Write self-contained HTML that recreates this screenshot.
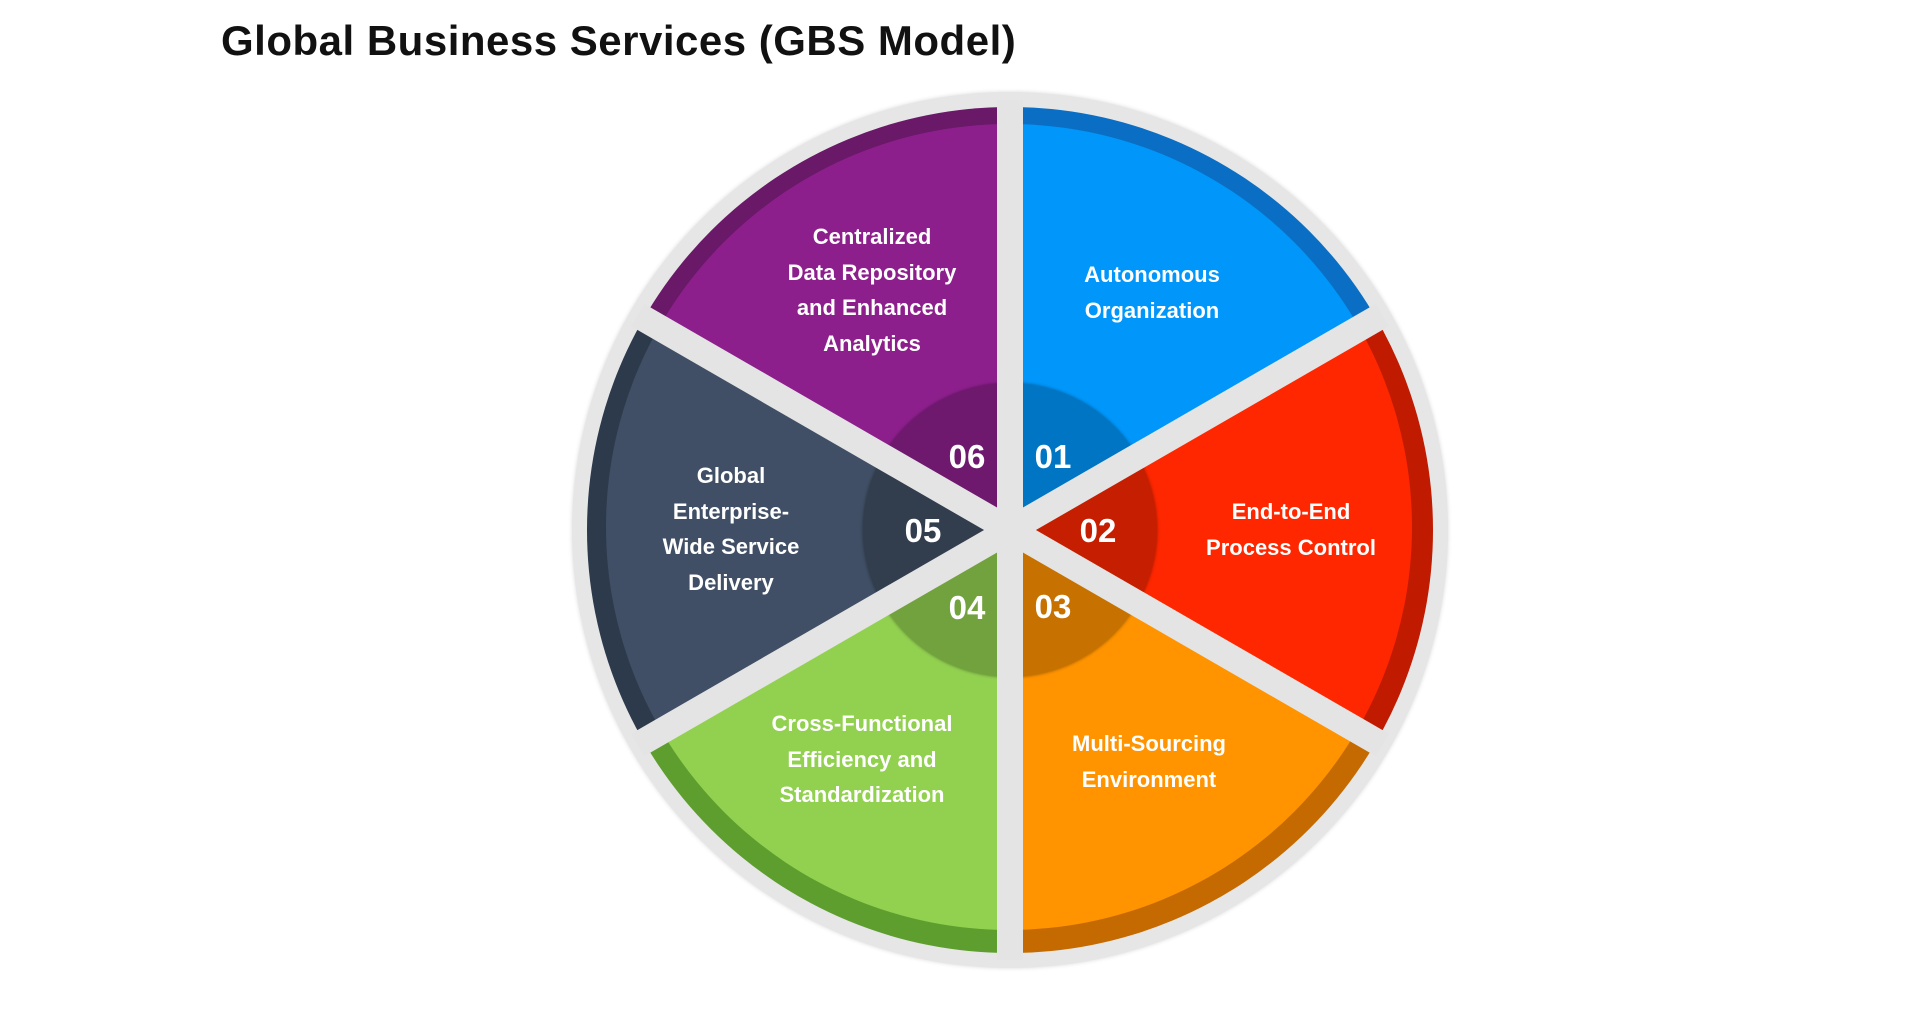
<!DOCTYPE html>
<html><head><meta charset="utf-8"><style>
html,body{margin:0;padding:0;background:#fff;width:1920px;height:1020px;overflow:hidden;position:relative;font-family:"Liberation Sans",sans-serif}
.title{position:absolute;left:221px;top:17px;font-size:42px;font-weight:bold;color:#111;letter-spacing:0.5px}
.c{position:absolute;border-radius:50%}
.gap{position:absolute;left:1010px;top:530px;width:26px;height:860px;margin-left:-13px;margin-top:-430px;background:#e4e4e4}
.num{position:absolute;color:#fff;font-weight:bold;font-size:33px;transform:translate(-50%,-50%)}
.lbl{position:absolute;color:#fff;font-weight:bold;font-size:22px;line-height:35.5px;text-align:center;transform:translateX(-50%);white-space:nowrap}
</style></head><body>
<div class="title">Global Business Services (GBS Model)</div>
<div class="c" style="left:572px;top:92px;width:876px;height:876px;background:#e6e6e6;box-shadow:0 0 4px rgba(0,0,0,0.15)"></div>
<div class="c" style="left:587px;top:107px;width:846px;height:846px;background:conic-gradient(#0a6fc4 0 60deg,#c01a00 60deg 120deg,#c46a00 120deg 180deg,#5e9e2e 180deg 240deg,#2c3a4c 240deg 300deg,#6a1868 300deg 360deg)"></div>
<div class="c" style="left:606px;top:124px;width:806px;height:806px;background:conic-gradient(#0096fa 0 60deg,#fe2700 60deg 120deg,#ff9300 120deg 180deg,#92d050 180deg 240deg,#404f65 240deg 300deg,#8d1f8d 300deg 360deg)"></div>
<div class="c" style="left:863px;top:383px;width:294px;height:294px;background:rgba(0,0,0,0.22);box-shadow:0 0 3px rgba(0,0,0,0.4)"></div>
<div class="gap"></div>
<div class="gap" style="transform:rotate(60deg)"></div>
<div class="gap" style="transform:rotate(120deg)"></div>
<div class="num" style="left:967px;top:457px">06</div>
<div class="num" style="left:1053px;top:457px">01</div>
<div class="num" style="left:1098px;top:531px">02</div>
<div class="num" style="left:1053px;top:607px">03</div>
<div class="num" style="left:967px;top:608px">04</div>
<div class="num" style="left:923px;top:531px">05</div>
<div class="lbl" style="left:872px;top:219px">Centralized<br>Data Repository<br>and Enhanced<br>Analytics</div>
<div class="lbl" style="left:1152px;top:257px">Autonomous<br>Organization</div>
<div class="lbl" style="left:1291px;top:494px">End-to-End<br>Process Control</div>
<div class="lbl" style="left:1149px;top:726px">Multi-Sourcing<br>Environment</div>
<div class="lbl" style="left:862px;top:706px">Cross-Functional<br>Efficiency and<br>Standardization</div>
<div class="lbl" style="left:731px;top:458px">Global<br>Enterprise-<br>Wide Service<br>Delivery</div>
</body></html>
